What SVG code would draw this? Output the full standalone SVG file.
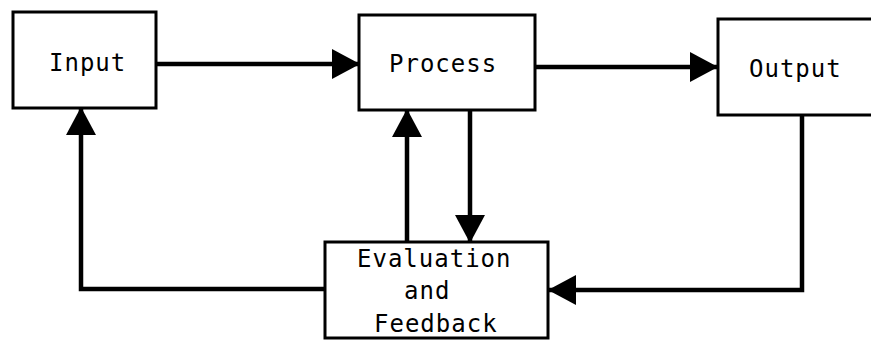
<svg xmlns="http://www.w3.org/2000/svg" width="871" height="342" viewBox="0 0 871 342">
<style>
.box{fill:#fff;stroke:#000;stroke-width:3}
.lbl{font-family:"DejaVu Sans Mono","Liberation Mono",monospace;font-size:24px;letter-spacing:1px;fill:#000}
.conn{fill:none;stroke:#000;stroke-width:4.5;marker-end:url(#ah)}
</style>
<defs>
<marker id="ah" viewBox="0 0 28 30" refX="27" refY="15" markerWidth="28" markerHeight="30" markerUnits="userSpaceOnUse" orient="auto">
<path d="M0,0 L28,15 L0,30 z" fill="#000"/>
</marker>
</defs>
<rect width="871" height="342" fill="#fff"/>
<g id="connectors">
<path class="conn" d="M156,64 H359"/>
<path class="conn" d="M535,67 H717"/>
<path class="conn" d="M470,110 V242"/>
<path class="conn" d="M407,242 V110"/>
<path class="conn" d="M325,289 H81 V108"/>
<path class="conn" d="M802,115 V290 H549"/>
</g>
<g id="input">
<rect class="box" x="13" y="12" width="143" height="96"/>
<text class="lbl" x="49" y="71">Input</text>
</g>
<g id="process">
<rect class="box" x="359" y="15" width="176" height="95"/>
<text class="lbl" x="389" y="72">Process</text>
</g>
<g id="output">
<rect class="box" x="718" y="19" width="170" height="96"/>
<text class="lbl" x="749" y="77">Output</text>
</g>
<g id="evaluation">
<rect class="box" x="325" y="242" width="223" height="96"/>
<text class="lbl" x="357" y="267">Evaluation</text>
<text class="lbl" x="404" y="299">and</text>
<text class="lbl" x="374" y="332">Feedback</text>
</g>
</svg>
